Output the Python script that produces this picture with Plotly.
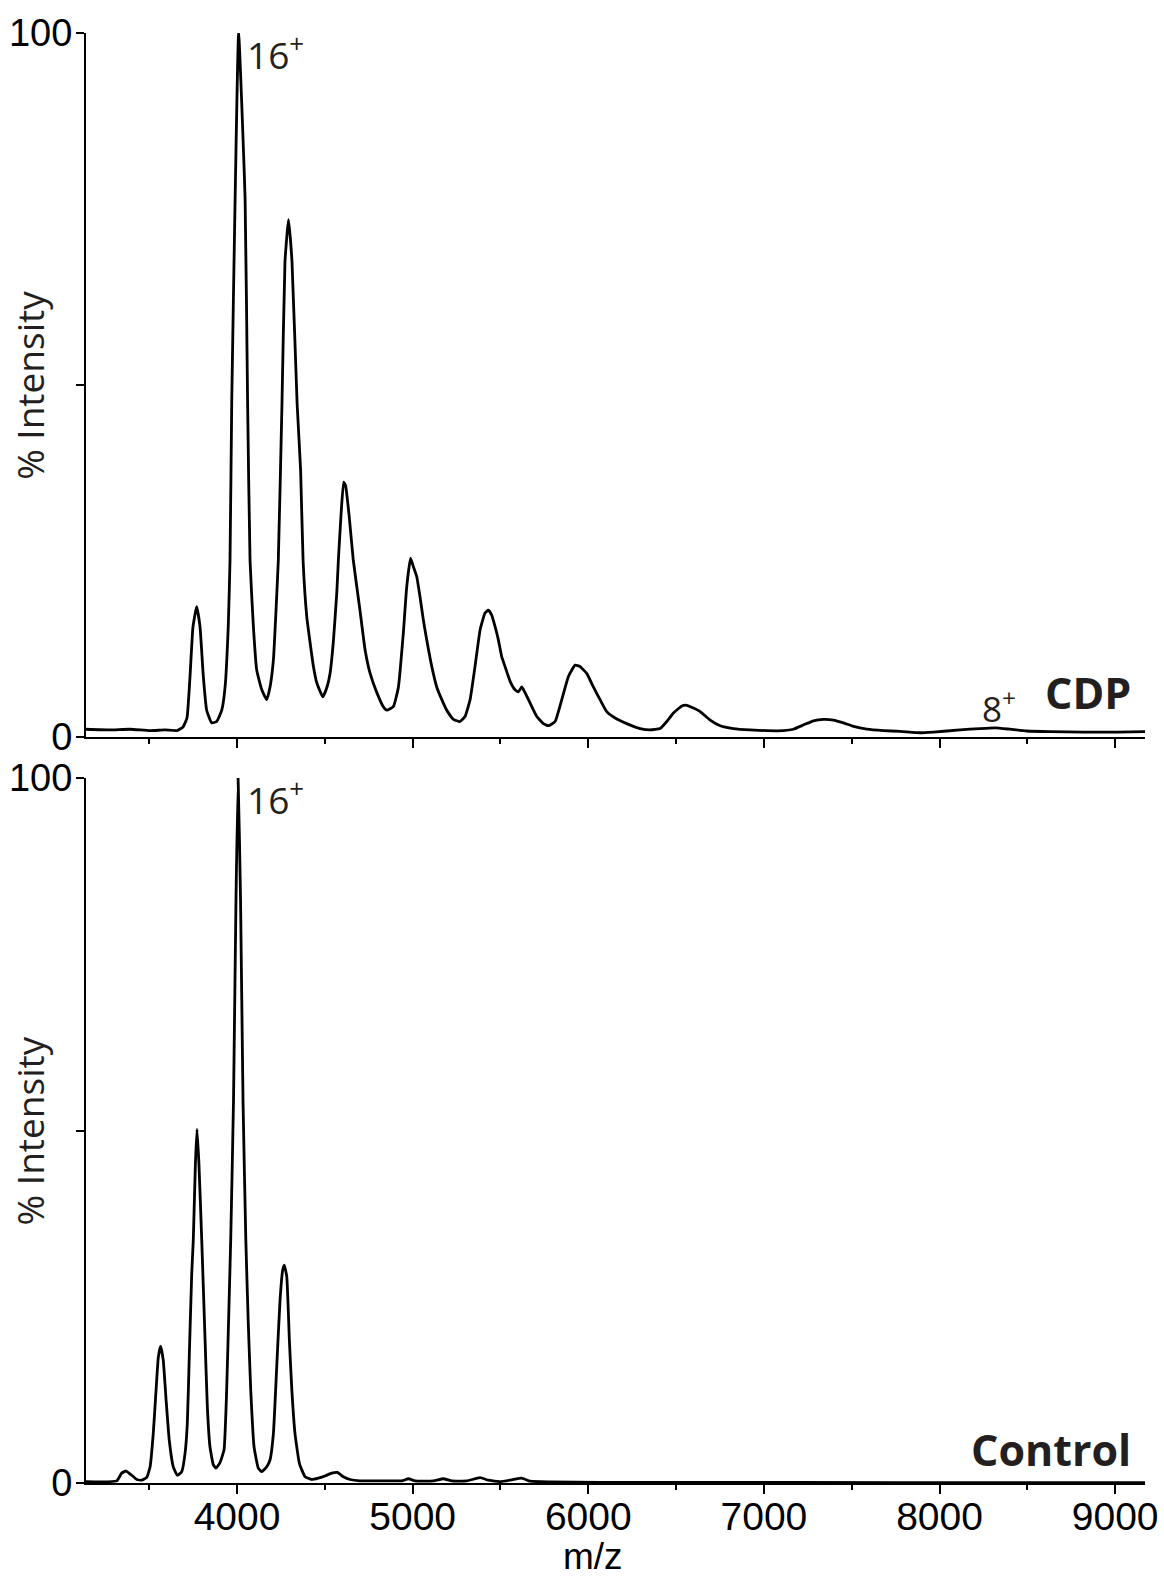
import plotly.graph_objects as go

# CDP spectrum (m/z, % intensity)
cdp_mz = [3140, 3277, 3391, 3505, 3590, 3658, 3692, 3715, 3732, 3749, 3770, 3789, 3808, 3827, 3856,
          3884, 3913, 3932, 3950, 3960, 3970, 3989, 4009, 4046, 4060, 4074, 4093, 4112, 4141, 4169,
          4188, 4207, 4222, 4235, 4256, 4273, 4293, 4313, 4342, 4362, 4376, 4397, 4416, 4435, 4454,
          4488, 4511, 4530, 4548, 4568, 4577, 4592, 4607, 4618, 4638, 4662, 4700, 4729, 4757, 4796,
          4833, 4853, 4890, 4919, 4947, 4966, 4988, 5004, 5023, 5042, 5061, 5080, 5109, 5137, 5166,
          5194, 5232, 5270, 5298, 5327, 5355, 5384, 5412, 5431, 5450, 5469, 5488, 5507, 5526, 5555,
          5583, 5602, 5621, 5640, 5669, 5707, 5744, 5773, 5811, 5849, 5887, 5925, 5953, 5992, 6029,
          6067, 6105, 6153, 6219, 6295, 6352, 6409, 6447, 6485, 6533, 6561, 6599, 6637, 6694, 6751,
          6826, 6922, 7016, 7111, 7168, 7225, 7282, 7339, 7396, 7453, 7510, 7586, 7681, 7776, 7890,
          7965, 8117, 8231, 8317, 8402, 8497, 8630, 8818, 9010, 9171]
cdp_int = [1.1, 1.0, 1.1, 0.9, 1.0, 0.9, 1.4, 2.7, 8.5, 15.6, 18.5, 15.7, 8.6, 3.8, 2.0,
           2.2, 3.8, 7.1, 15.7, 25.1, 47.9, 76.3, 100.0, 76.3, 47.9, 25.1, 15.7, 9.5, 6.7, 5.3,
           7.1, 10.9, 18.0, 25.1, 47.4, 67.5, 73.5, 67.5, 47.4, 37.9, 25.1, 17.1, 13.4, 10.0, 7.7,
           5.7, 7.0, 9.1, 13.4, 20.5, 25.1, 31.5, 36.2, 35.7, 31.5, 25.1, 18.0, 12.4, 9.1, 6.3,
           4.3, 3.8, 4.3, 7.1, 14.8, 21.3, 25.4, 24.2, 22.8, 19.9, 16.6, 13.8, 10.0, 7.1, 5.3,
           3.8, 2.5, 2.2, 2.9, 5.3, 10.0, 15.2, 17.6, 18.0, 17.3, 15.7, 13.8, 11.4, 10.0, 7.9,
           6.7, 6.4, 7.1, 6.3, 4.8, 2.9, 1.9, 1.6, 2.2, 5.3, 8.6, 10.2, 10.0, 9.0, 7.1,
           5.3, 3.6, 2.7, 1.9, 1.2, 1.0, 1.2, 2.2, 3.4, 4.4, 4.5, 4.1, 3.6, 2.4, 1.6,
           1.2, 1.0, 0.9, 0.9, 1.1, 1.7, 2.3, 2.5, 2.4, 2.0, 1.5, 1.1, 0.9, 0.8, 0.6,
           0.7, 1.0, 1.2, 1.3, 1.1, 0.85, 0.75, 0.7, 0.7, 0.75]

# Control spectrum
ctl_mz = [3140, 3315, 3343, 3368, 3400, 3429, 3457, 3486, 3505, 3523, 3539, 3552, 3565, 3580, 3596,
          3614, 3637, 3660, 3685, 3704, 3717, 3728, 3742, 3751, 3763, 3772, 3783, 3799, 3818, 3831,
          3846, 3865, 3880, 3903, 3926, 3941, 3954, 3964, 3980, 3994, 4006, 4020, 4034, 4050, 4064,
          4078, 4097, 4121, 4141, 4169, 4188, 4207, 4226, 4245, 4260, 4269, 4283, 4298, 4312, 4330,
          4355, 4387, 4425, 4463, 4501, 4539, 4571, 4605, 4644, 4700, 4796, 4890, 4938, 4976, 5014,
          5118, 5175, 5223, 5308, 5384, 5431, 5498, 5574, 5621, 5669, 5783, 6067, 6637, 7776, 9171]
ctl_int = [0.2, 0.3, 1.4, 1.7, 1.1, 0.5, 0.4, 0.8, 2.3, 7.0, 13.2, 17.9, 19.4, 17.4, 11.8,
           6.1, 2.3, 1.1, 1.6, 4.2, 8.5, 17.9, 29.7, 34.5, 45.3, 50.2, 45.3, 34.5, 20.3, 10.8,
           5.1, 2.6, 2.1, 2.9, 4.7, 13.2, 25.0, 34.5, 54.3, 82.7, 100.0, 82.7, 54.3, 34.5, 22.7,
           13.2, 5.1, 2.1, 1.6, 2.3, 3.3, 7.0, 16.5, 26.0, 30.2, 30.9, 29.3, 20.3, 13.2, 7.0,
           2.8, 0.9, 0.5, 0.7, 1.0, 1.4, 1.5, 0.9, 0.5, 0.3, 0.3, 0.3, 0.3, 0.6, 0.3,
           0.3, 0.6, 0.3, 0.3, 0.75, 0.4, 0.2, 0.5, 0.7, 0.25, 0.15, 0.1, 0.1, 0.05, 0.05]

x_major = [3000, 4000, 5000, 6000, 7000, 8000, 9000]
x_major_labels = ["3000", "4000", "5000", "6000", "7000", "8000", "9000"]
y_ticks = [0, 50, 100]
y_tick_labels = ["0", "", "100"]
x_range = [3140, 9170]

AX = "Liberation Sans, Arial, sans-serif"
HUM = "Open Sans, Noto Sans, sans-serif"

fig = go.Figure()
fig.add_trace(go.Scatter(x=cdp_mz, y=cdp_int, mode="lines",
                         line=dict(color="black", width=2.8, shape="spline", smoothing=0.4),
                         xaxis="x", yaxis="y", showlegend=False, hoverinfo="skip", cliponaxis=True))
fig.add_trace(go.Scatter(x=ctl_mz, y=ctl_int, mode="lines",
                         line=dict(color="black", width=2.8, shape="spline", smoothing=0.4),
                         xaxis="x2", yaxis="y2", showlegend=False, hoverinfo="skip", cliponaxis=True))

xcommon = dict(range=x_range, showline=True, linecolor="black", linewidth=2, ticks="outside",
               ticklen=9, tickwidth=2, tickcolor="black", tickvals=x_major, ticktext=x_major_labels,
               showgrid=False, zeroline=False, automargin=False, ticklabelstandoff=-11,
               minor=dict(dtick=500, tick0=0, ticks="outside", ticklen=5, tickwidth=2,
                          tickcolor="black", showgrid=False),
               tickfont=dict(family=AX, size=39, color="black"))
ycommon = dict(range=[0, 100], showline=True, linecolor="black", linewidth=2, ticks="outside",
               ticklen=8, tickwidth=2, tickcolor="black", tickvals=y_ticks, ticktext=y_tick_labels,
               showgrid=False, zeroline=False, automargin=False, ticklabelstandoff=-4,
               tickfont=dict(family=AX, size=38, color="black"))

fig.update_layout(
    width=1164, height=1579,
    margin=dict(l=86, r=19, t=33, b=96, autoexpand=False),
    paper_bgcolor="white", plot_bgcolor="white",
    xaxis=dict(**xcommon, anchor="y", showticklabels=False),
    yaxis=dict(**ycommon, domain=[0.5145, 1.0], anchor="x"),
    xaxis2=dict(**xcommon, anchor="y2", matches="x"),
    yaxis2=dict(**ycommon, domain=[0.0, 0.4862], anchor="x2"),
)

ann = []
# peak labels
ann.append(dict(x=4046, y=97.3, xref="x", yref="y", text="16<sup>+</sup>", showarrow=False,
                xanchor="left", yanchor="middle", font=dict(family=HUM, size=37, color="#231f20")))
ann.append(dict(x=4046, y=97.2, xref="x2", yref="y2", text="16<sup>+</sup>", showarrow=False,
                xanchor="left", yanchor="middle", font=dict(family=HUM, size=37, color="#231f20")))
ann.append(dict(x=8230, y=4.3, xref="x", yref="y", text="8<sup>+</sup>", showarrow=False,
                xanchor="left", yanchor="middle", font=dict(family=HUM, size=35, color="#231f20")))
# panel names
ann.append(dict(x=9103, y=6.25, xref="x", yref="y", text="<b>CDP</b>", showarrow=False,
                xanchor="right", yanchor="middle", font=dict(family=HUM, size=43, color="#231f20")))
ann.append(dict(x=9103, y=4.8, xref="x2", yref="y2", text="<b>Control</b>", showarrow=False,
                xanchor="right", yanchor="middle", font=dict(family=HUM, size=43, color="#231f20")))
# axis titles
for ydom_center in [(0.5145 + 1.0) / 2, 0.4862 / 2]:
    ann.append(dict(x=-0.053, y=ydom_center, xref="paper", yref="paper", text="% Intensity",
                    showarrow=False, textangle=-90, xanchor="center", yanchor="middle",
                    font=dict(family=HUM, size=37, color="#231f20")))
ann.append(dict(x=0.479, y=-0.0508, xref="paper", yref="paper", text="m/z", showarrow=False,
                xanchor="center", yanchor="middle", font=dict(family=AX, size=37, color="black")))
fig.update_layout(annotations=ann)

fig.write_html("out.html")
